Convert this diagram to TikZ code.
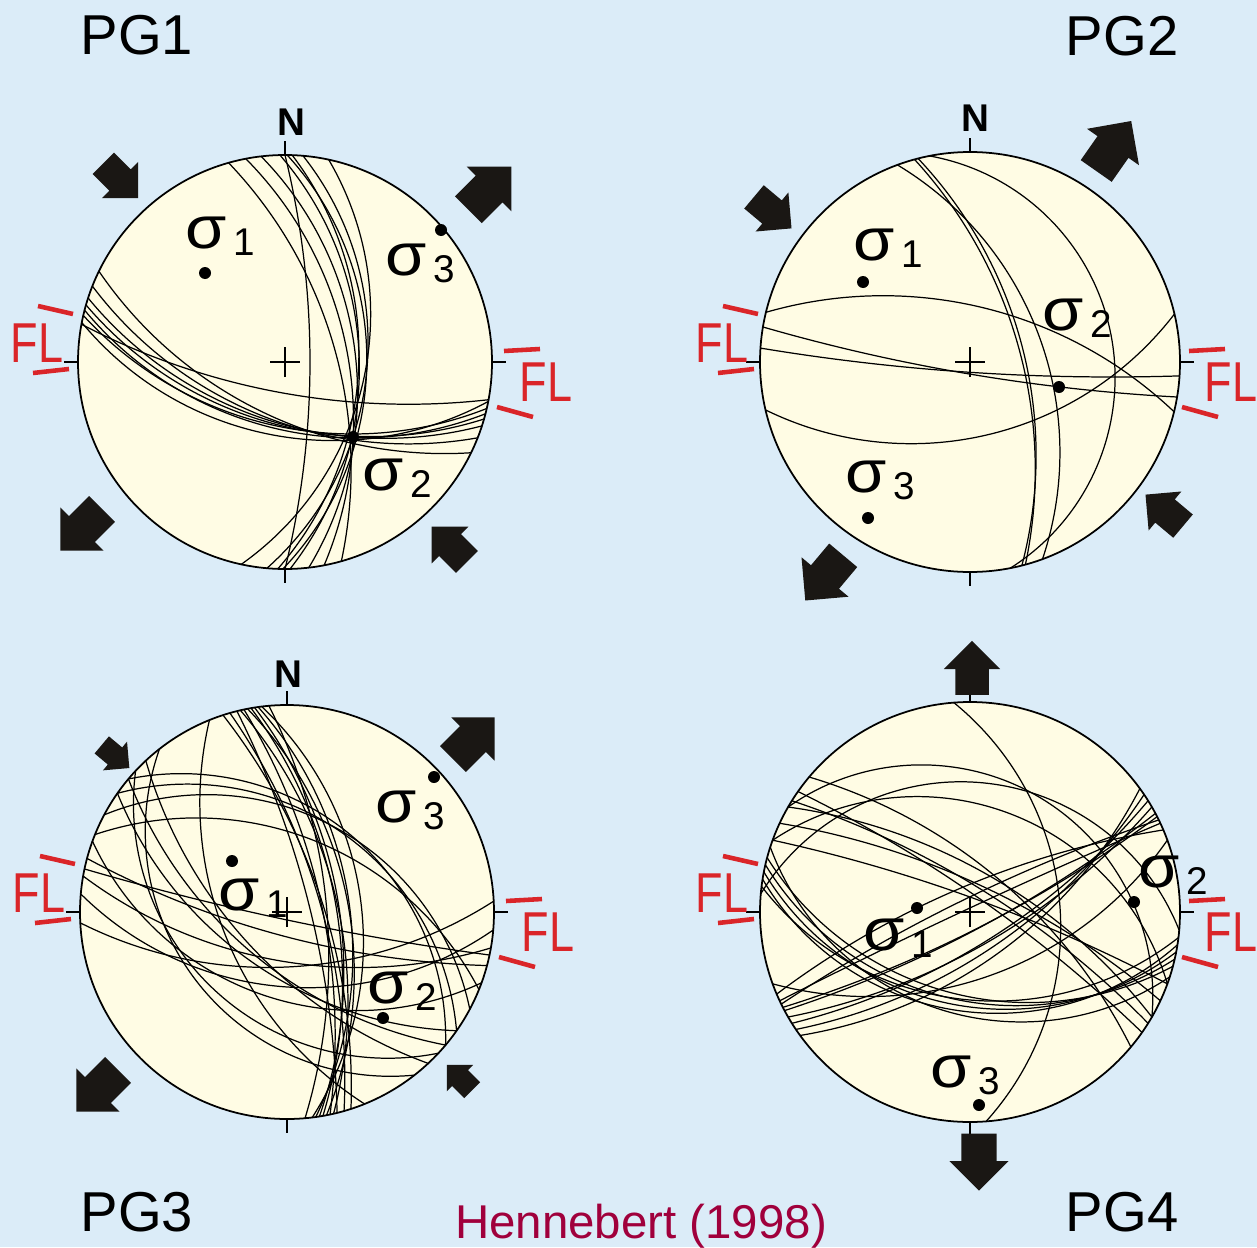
\documentclass[tikz,border=0pt]{standalone}
\usepackage{fontspec}
\usepackage{graphicx}
\usepackage{xcolor}
\usepackage{tikz}
\setmainfont{Liberation Sans}

\definecolor{skybg}{RGB}{219,236,248}
\definecolor{netfill}{RGB}{255,252,228}
\definecolor{flred}{RGB}{218,37,41}
\definecolor{citered}{RGB}{160,0,60}
\definecolor{arrowblack}{RGB}{26,23,20}

\tikzset{
  netrim/.style={draw=black, line width=1pt},
  gcline/.style={draw=black, line width=0.7pt},
  tick/.style={draw=black, line width=0.75pt},
  sig/.style={anchor=base west, inner sep=0pt, font=\fontsize{34}{34}\selectfont},
  pglabel/.style={inner sep=0pt, font=\fontsize{32}{32}\selectfont},
  northlabel/.style={inner sep=0pt, font=\bfseries\fontsize{22}{22}\selectfont},
  fllabel/.style={inner sep=0pt, text=flred, font=\fontsize{32}{32}\selectfont},
  flbar/.style={draw=flred, line width=2.6pt},
  blockarrow/.style={fill=arrowblack}
}

% great circle through the point (qx,qy), one end at angle theta
\newcommand\gcq[3]{%
  \pgfmathsetmacro\gcs{((#2)*cos(#1)+(#3)*sin(#1))/\netR}%
  \pgfmathsetmacro\gcn{(-(#2)*sin(#1)+(#3)*cos(#1))/\netR}%
  \pgfmathsetmacro\gcrot{#1+(\gcn<0)*180}%
  \pgfmathsetmacro\gct{(\gcs*\gcs+\gcn*\gcn-1)/(2*abs(\gcn))}%
  \pgfmathsetmacro\gcrad{sqrt(\gct*\gct+1)*\netR}%
  \pgfmathsetmacro\gcstart{atan2(-\gct,1)}%
  \draw[gcline, rotate=\gcrot] (\netR,0) arc[start angle=\gcstart, end angle=180-\gcstart, radius=\gcrad];%
}

% ticks and centre cross
\newcommand\netmarks{%
  \draw[tick] (0,\netR) -- (0,\netR+14) (0,-\netR) -- (0,-\netR-14)
    (\netR,0) -- (\netR+14,0) (-\netR,0) -- (-\netR-14,0)
    (-15,0) -- (15,0) (0,-15) -- (0,15);%
}

% FL marks on both sides
\newcommand\flmarks[1]{%
  \node[fllabel] (#1flw) at (-248,19) {\scalebox{0.8}[1]{FL}};
  \draw[flbar] (-247,56) -- (-212,48);
  \draw[flbar] (-252,-11) -- (-216,-7);
  \node[fllabel] (#1fle) at (261,-20) {\scalebox{0.8}[1]{FL}};
  \draw[flbar] (219,11) -- (255,13);
  \draw[flbar] (212,-45) -- (248,-55);%
}

% block arrow: head base x, y (down), direction, length
\newcommand\bigarrow[4]{%
  \fill[blockarrow, shift={(#1,-#2)}, rotate=#3, scale=#4]
    (-0.48,-0.31) -- (0,-0.31) -- (0,-0.52) -- (0.52,0) -- (0,0.52) -- (0,0.31) -- (-0.48,0.31) -- cycle;%
}

\newcommand\sigtext[1]{\scalebox{1.12}[1]{σ}\kern4pt\raisebox{-4pt}{\fontsize{22}{22}\selectfont #1}}

\begin{document}
\begin{tikzpicture}[x=0.02cm, y=0.02cm]
  \useasboundingbox (0,0) rectangle (1257,-1247);
  \fill[skybg] (0,0) rectangle (1257,-1247);

  % PG1
  \begin{scope}[shift={(285,-362)}]
    \def\netR{207}
    \fill[netfill] (0,0) circle[radius=\netR];
    \foreach \t/\x/\y in {154/75/-83, 158.5/68/-78, 162/68/-75, 164/65/-74, 165.5/71/-76,
        167/68/-72, 169/68/-78, 169.5/105/-42,
        105.8/65/-75, 100.9/68/-78, 96.6/70/-72, 91.4/67/-75, 89.4/71/-78,
        88/63/-75, 77.8/60/-75, 85/68/-75, 90/25/0}
      {\gcq{\t}{\x}{\y}}
    \draw[netrim] (0,0) circle[radius=\netR];
    \netmarks
    \flmarks{pgone}
  \end{scope}

  % PG2
  \begin{scope}[shift={(970,-362)}]
    \def\netR{210}
    \fill[netfill] (0,0) circle[radius=\netR];
    \foreach \t/\x/\y in {166.3/-120/65, 170.4/90/-25, 176.2/143/-15, 193.2/-80/-81,
        105.3/57/-21, 104.3/60/-21, 101.1/145/-21, 110.2/82/-18}
      {\gcq{\t}{\x}{\y}}
    \draw[netrim] (0,0) circle[radius=\netR];
    \netmarks
    \flmarks{pgtwo}
  \end{scope}

  % PG3
  \begin{scope}[shift={(287,-912)}]
    \def\netR{207}
    \fill[netfill] (0,0) circle[radius=\netR];
    \foreach \t/\x/\y in {95/40/0, 97/75/0, 98/62/10, 99/55/-20, 100/50/0, 101/66/-30,
        102/35/5, 103/60/-60, 104/25/-5, 106/45/-40, 108/55/-70, 112/-70/0, 128/-120/-20,
        140/-30/-45, 145/-20/-60, 133/-40/-30, 137/-90/-60,
        152/-27/112, 145/20/100, 140/60/80, 158/-40/90,
        170/0/-50, 175/0/-75, 165/0/-25, 160/0/-90, 183/0/-55, 168/0/-8}
      {\gcq{\t}{\x}{\y}}
    \draw[netrim] (0,0) circle[radius=\netR];
    \netmarks
    \flmarks{pgthree}
  \end{scope}

  % PG4
  \begin{scope}[shift={(970,-912)}]
    \def\netR{210}
    \fill[netfill] (0,0) circle[radius=\netR];
    \foreach \t/\x/\y in {165/0/-85, 167/0/-90, 169/0/-95, 171/0/-100, 173/0/-88, 162/0/-105,
        203/-53/4, 205/-30/-10, 207/0/-20, 208/20/-10, 210/0/-40, 212/-20/-50,
        214/30/-30, 216/0/-60, 206/10/20, 200/0/-70,
        140/20/40, 145/0/20, 150/30/30, 155/-20/40, 160/40/0, 148/60/-10,
        160/0/110, 175/0/130, 150/60/120, 94.4/90/5}
      {\gcq{\t}{\x}{\y}}
    \draw[netrim] (0,0) circle[radius=\netR];
    \netmarks
    \flmarks{pgfour}
  \end{scope}

  % stress axes
  \foreach \px/\py in {205/273, 441/230, 353/437, 863/282, 1059/387, 868/518,
      232/861, 434/777, 383/1018, 917/908, 1134/902, 979/1105}
    \fill (\px,-\py) circle[radius=6];

  \node[sig] (pgonesone) at (185,-248) {\sigtext{1}};
  \node[sig] (pgonesthree) at (385,-275) {\sigtext{3}};
  \node[sig] (pgonestwo) at (362,-490) {\sigtext{2}};
  \node[sig] (pgtwosone) at (853,-260) {\sigtext{1}};
  \node[sig] (pgtwostwo) at (1042,-330) {\sigtext{2}};
  \node[sig] (pgtwosthree) at (845,-492) {\sigtext{3}};
  \node[sig] (pgthreesone) at (218,-910) {\sigtext{1}};
  \node[sig] (pgthreesthree) at (375,-822) {\sigtext{3}};
  \node[sig] (pgthreestwo) at (367,-1003) {\sigtext{2}};
  \node[sig] (pgfoursone) at (863,-950) {\sigtext{1}};
  \node[sig] (pgfourstwo) at (1138,-887) {\sigtext{2}};
  \node[sig] (pgfoursthree) at (930,-1087) {\sigtext{3}};

  % north labels
  \node[northlabel] (pgonen) at (291,-122) {N};
  \node[northlabel] (pgtwon) at (975,-118) {N};
  \node[northlabel] (pgthreen) at (288,-674) {N};

  % stress arrows
  \bigarrow{120}{180}{-45}{49}
  \bigarrow{489}{189}{45}{61}
  \bigarrow{82}{529}{225}{59}
  \bigarrow{450}{545}{135}{50}
  \bigarrow{1113}{147}{55}{61}
  \bigarrow{772}{212}{-40}{49}
  \bigarrow{825}{577}{230}{59}
  \bigarrow{1165}{511}{140}{49}
  \bigarrow{115}{756}{-40}{36}
  \bigarrow{473}{739}{45}{59}
  \bigarrow{98}{1090}{225}{59}
  \bigarrow{460}{1078}{135}{36}
  \bigarrow{972}{669}{90}{54}
  \bigarrow{979}{1161}{-90}{57}

  % titles
  \node[pglabel] (pgone) at (137,-35) {PG1};
  \node[pglabel] (pgtwo) at (1122,-36) {PG2};
  \node[pglabel] (pgthree) at (137,-1212) {PG3};
  \node[pglabel] (pgfour) at (1122,-1212) {PG4};
  \node[anchor=base, inner sep=0pt, text=citered, font=\fontsize{27}{27}\selectfont] (cite) at (641,-1238) {Hennebert (1998)};
\end{tikzpicture}
\end{document}
